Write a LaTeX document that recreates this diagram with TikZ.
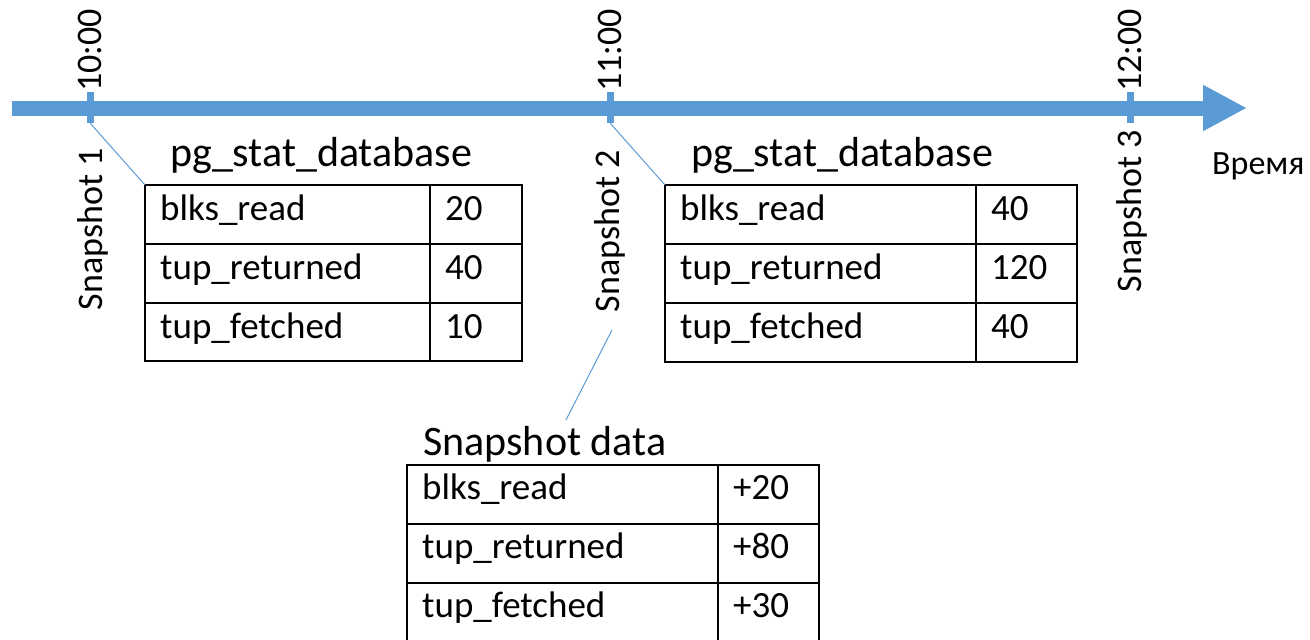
\documentclass[tikz,border=0pt]{standalone}
\usepackage{fontspec}
\setmainfont{Carlito}
\usetikzlibrary{arrows.meta}
\definecolor{timeblue}{HTML}{5B9BD5}
\tikzset{
    celltext/.style={anchor=base west, inner sep=0pt, font=\fontsize{37}{44}\selectfont},
    tabtitle/.style={anchor=base west, inner sep=0pt, font=\fontsize{42}{50}\selectfont},
    ticklabel/.style={rotate=90, inner sep=0pt, font=\fontsize{36}{43}\selectfont},
    leader/.style={timeblue, line width=1pt},
    tabline/.style={line width=2pt}
}
\begin{document}
\begin{tikzpicture}[x=1pt, y=-1pt]
\useasboundingbox (0,0) rectangle (1310,640);

% Time axis
\draw[timeblue, line width=15pt, -{Triangle[length=44pt, width=43pt]}] (12,108) -- (1247,108);
\node[anchor=base west, inner sep=0pt, font=\fontsize{34}{40}\selectfont] (timelabel) at (1212,174) {Время};

% Ticks with times above and snapshot names below
\foreach \x/\t/\n/\sx/\e in {90/10:00/1/93/148, 610/11:00/2/610/150, 1130/12:00/3/1132/130}{
    \draw[timeblue, line width=7pt] (\x,92) -- (\x,123);
    \coordinate (tick\n) at (\x,123);
    \node[ticklabel, anchor=west] (time\n) at (\x,92) {\t};
    \node[ticklabel, anchor=east] (snap\n) at (\sx,\e) {Snapshot \n};
}

% First pg_stat_database table
\node[tabtitle] (head1) at (170,166) {pg\_stat\_database};
\draw[tabline] (145,185) rectangle (522,361);
\draw[tabline] (430,185) -- (430,361);
\foreach \y in {244,303}
    \draw[tabline] (145,\y) -- (522,\y);
\foreach \name/\val/\y [count=\i] in {blks\_read/20/220, tup\_returned/40/279, tup\_fetched/10/338}{
    \node[celltext] (ka\i) at (160,\y) {\name};
    \node[celltext] (va\i) at (445,\y) {\val};
}
\coordinate (corner1) at (145,185);
\draw[leader] (tick1) -- (corner1);

% Second pg_stat_database table
\node[tabtitle] (head2) at (691,166) {pg\_stat\_database};
\draw[tabline] (665,185) rectangle (1077,362);
\draw[tabline] (976,185) -- (976,362);
\foreach \y in {244,303}
    \draw[tabline] (665,\y) -- (1077,\y);
\foreach \name/\val/\y [count=\i] in {blks\_read/40/220, tup\_returned/120/279, tup\_fetched/40/338}{
    \node[celltext] (kb\i) at (680,\y) {\name};
    \node[celltext] (vb\i) at (991,\y) {\val};
}
\coordinate (corner2) at (665,185);
\draw[leader] (tick2) -- (corner2);

% Snapshot data (difference)
\node[tabtitle] (head3) at (423,455) {Snapshot data};
\draw[tabline] (407,465) rectangle (819,660);
\draw[tabline] (718,465) -- (718,660);
\foreach \y in {524,583}
    \draw[tabline] (407,\y) -- (819,\y);
\foreach \name/\val/\y [count=\i] in {blks\_read/+20/499, tup\_returned/+80/558, tup\_fetched/+30/617}{
    \node[celltext] (kc\i) at (422,\y) {\name};
    \node[celltext] (vc\i) at (733,\y) {\val};
}
\coordinate (datafrom) at (612,330);
\coordinate (datato) at (566,420);
\draw[leader] (datafrom) -- (datato);
\end{tikzpicture}
\end{document}
